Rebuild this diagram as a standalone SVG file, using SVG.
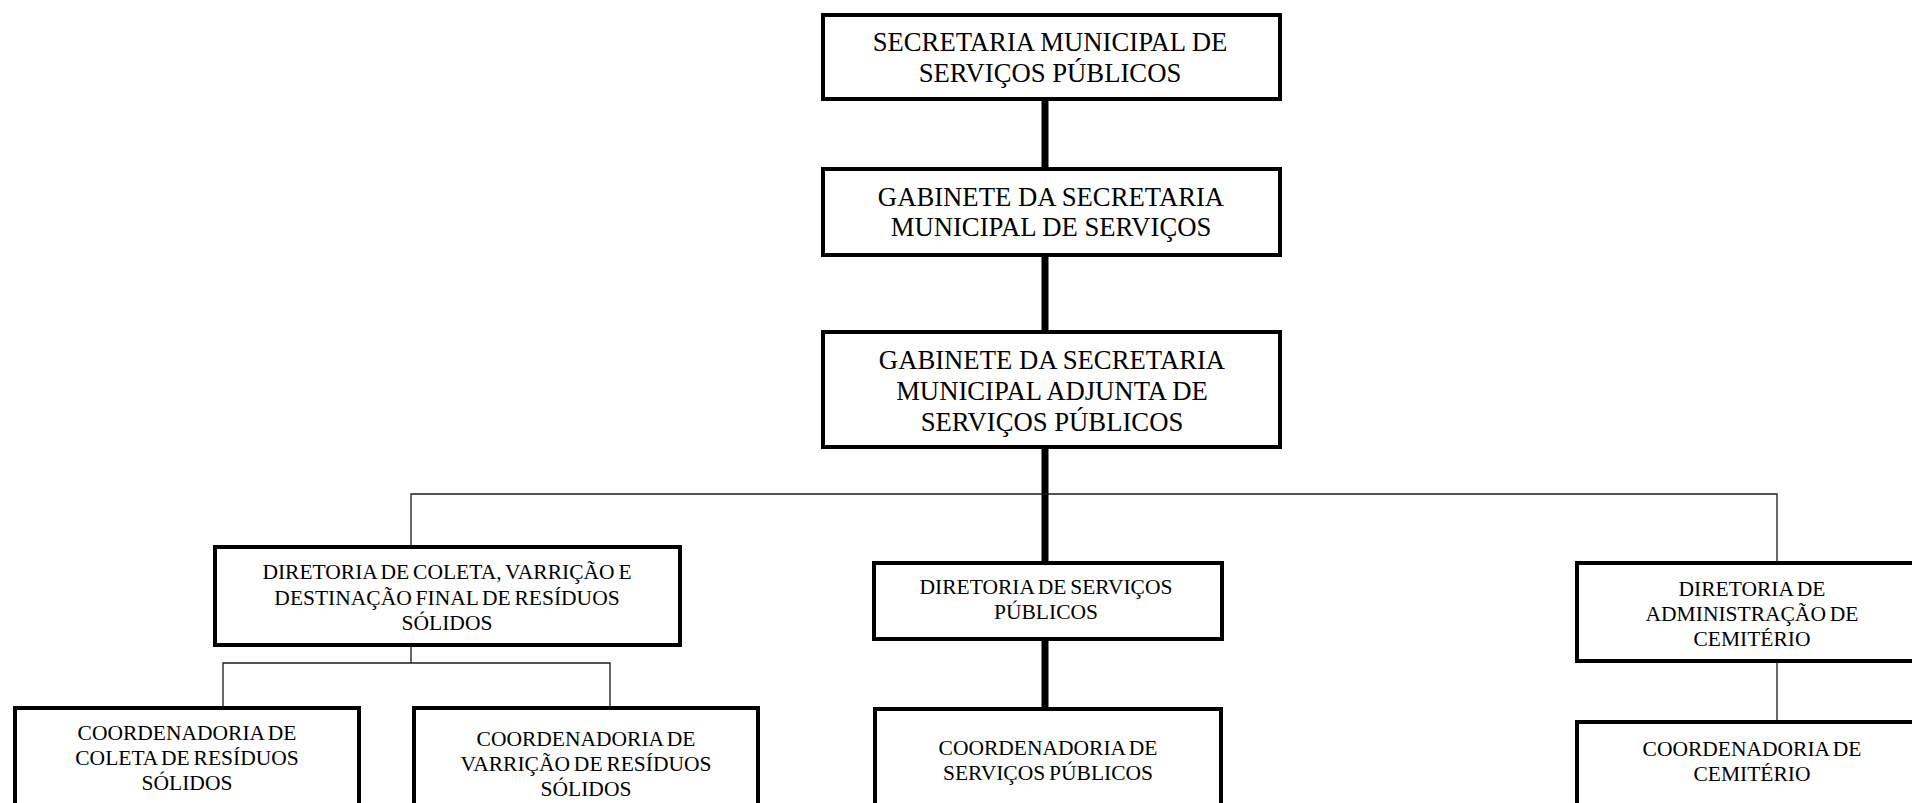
<svg xmlns="http://www.w3.org/2000/svg" width="1912" height="803" viewBox="0 0 1912 803">
<style>
.box{fill:#fff;stroke:#000;stroke-width:4}
.thick{stroke:#000;stroke-width:7;fill:none}
.thin{stroke:#1a1a1a;stroke-width:1.3;fill:none}
text{font-family:"Liberation Serif","Times New Roman",serif;fill:#000;text-anchor:middle}
.big{font-size:26.7px}
.sm{font-size:21.5px;word-spacing:-1.5px}
</style>
<rect width="1912" height="803" fill="#fff"/>
<g id="connectors">
<line class="thick" x1="1045" y1="100" x2="1045" y2="168"/>
<line class="thick" x1="1045" y1="256" x2="1045" y2="331"/>
<line class="thick" x1="1045" y1="448" x2="1045" y2="562"/>
<line class="thick" x1="1045" y1="640" x2="1045" y2="708"/>
<polyline class="thin" points="411,545 411,494 1777,494 1777,561"/>
<line class="thin" x1="411" y1="647" x2="411" y2="663"/>
<polyline class="thin" points="223,706 223,663 610,663 610,706"/>
<line class="thin" x1="1777" y1="663" x2="1777" y2="720"/>
</g>
<g id="n1">
<rect class="box" x="823" y="15" width="457" height="84"/>
<text class="big" x="1050" y="51">SECRETARIA MUNICIPAL DE</text>
<text class="big" x="1050" y="82">SERVIÇOS PÚBLICOS</text>
</g>
<g id="n2">
<rect class="box" x="823" y="169" width="457" height="86"/>
<text class="big" x="1051" y="206">GABINETE DA SECRETARIA</text>
<text class="big" x="1051" y="236">MUNICIPAL DE SERVIÇOS</text>
</g>
<g id="n3">
<rect class="box" x="823" y="332" width="457" height="115"/>
<text class="big" x="1052" y="369">GABINETE DA SECRETARIA</text>
<text class="big" x="1052" y="400">MUNICIPAL ADJUNTA DE</text>
<text class="big" x="1052" y="431">SERVIÇOS PÚBLICOS</text>
</g>
<g id="n4">
<rect class="box" x="215" y="547" width="465" height="98"/>
<text class="sm" x="447" y="579">DIRETORIA DE COLETA, VARRIÇÃO E</text>
<text class="sm" x="447" y="605">DESTINAÇÃO FINAL DE RESÍDUOS</text>
<text class="sm" x="447" y="630">SÓLIDOS</text>
</g>
<g id="n5">
<rect class="box" x="874" y="563" width="348" height="76"/>
<text class="sm" x="1046" y="594">DIRETORIA DE SERVIÇOS</text>
<text class="sm" x="1046" y="619">PÚBLICOS</text>
</g>
<g id="n6">
<rect class="box" x="1577" y="563" width="360" height="98"/>
<text class="sm" x="1752" y="596">DIRETORIA DE</text>
<text class="sm" x="1752" y="621">ADMINISTRAÇÃO DE</text>
<text class="sm" x="1752" y="646">CEMITÉRIO</text>
</g>
<g id="n7">
<rect class="box" x="15" y="708" width="344" height="120"/>
<text class="sm" x="187" y="740">COORDENADORIA DE</text>
<text class="sm" x="187" y="765">COLETA DE RESÍDUOS</text>
<text class="sm" x="187" y="790">SÓLIDOS</text>
</g>
<g id="n8">
<rect class="box" x="414" y="708" width="344" height="120"/>
<text class="sm" x="586" y="746">COORDENADORIA DE</text>
<text class="sm" x="586" y="771">VARRIÇÃO DE RESÍDUOS</text>
<text class="sm" x="586" y="796">SÓLIDOS</text>
</g>
<g id="n9">
<rect class="box" x="875" y="709" width="346" height="120"/>
<text class="sm" x="1048" y="755">COORDENADORIA DE</text>
<text class="sm" x="1048" y="780">SERVIÇOS PÚBLICOS</text>
</g>
<g id="n10">
<rect class="box" x="1577" y="722" width="360" height="120"/>
<text class="sm" x="1752" y="756">COORDENADORIA DE</text>
<text class="sm" x="1752" y="781">CEMITÉRIO</text>
</g>
</svg>
